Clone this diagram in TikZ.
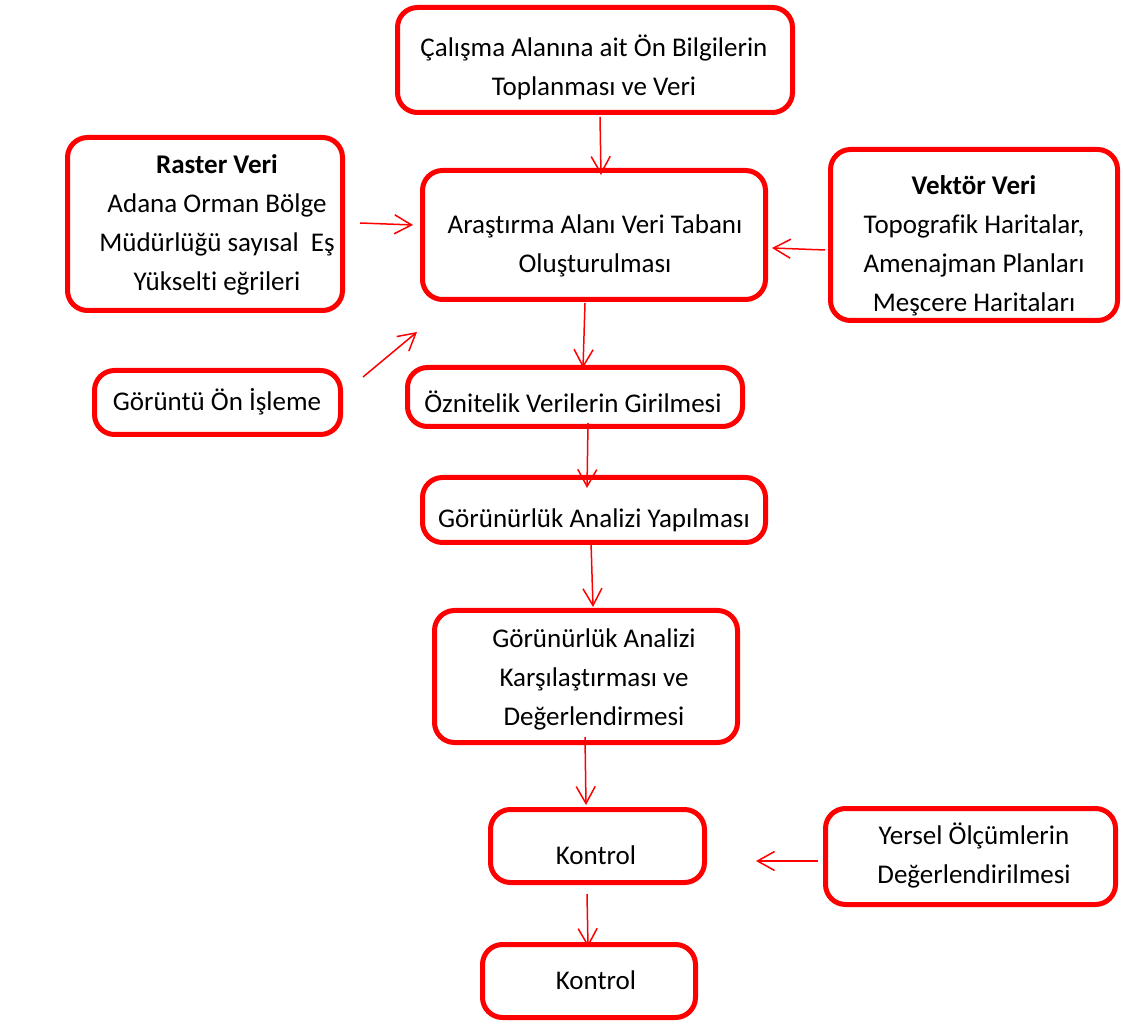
\documentclass[tikz,border=0pt]{standalone}
\usepackage{fontspec}
\setmainfont{Carlito}[Ligatures=NoCommon]
\usetikzlibrary{arrows.meta}
\tikzset{
    kutu/.style={draw=red, line width=5pt, rounded corners=20pt, outer sep=0pt, fill=white},
    yazi/.style={align=center, font=\fontsize{27pt}{39pt}\selectfont, inner sep=0pt},
    ok/.style={red, line width=1.5pt, -{Straight Barb[length=17pt,width=19pt]}}
}
\begin{document}
\begin{tikzpicture}[x=1pt, y=1pt]
    \useasboundingbox (0,0) rectangle (1123,1023);
    \node[kutu, minimum width=395pt, minimum height=105pt] (calisma) at (595,963) {};
    \node[yazi] (calisma-t) at (594,956) {Çalışma Alanına ait Ön Bilgilerin\\Toplanması ve Veri};
    \node[kutu, minimum width=275pt, minimum height=173pt] (raster) at (205,799) {};
    \node[yazi] (raster-t) at (217,798) {\textbf{Raster Veri}\\Adana Orman Bölge\\Müdürlüğü sayısal\ \ Eş\\Yükselti eğrileri};
    \node[kutu, minimum width=343pt, minimum height=129pt] (arastirma) at (594,788) {};
    \node[yazi] (arastirma-t) at (595,777) {Araştırma Alanı Veri Tabanı\\Oluşturulması};
    \node[kutu, minimum width=287pt, minimum height=171pt] (vektor) at (974,788) {};
    \node[yazi] (vektor-t) at (974,777) {\textbf{Vektör Veri}\\Topografik Haritalar,\\Amenajman Planları\\Meşcere Haritaları};
    \node[kutu, minimum width=246pt, minimum height=64pt] (goruntu) at (217.5,620.5) {};
    \node[yazi] (goruntu-t) at (217,621) {Görüntü Ön İşleme};
    \node[kutu, minimum width=335pt, minimum height=59pt] (oznitelik) at (575,626) {};
    \node[yazi] (oznitelik-t) at (573,621) {Öznitelik Verilerin Girilmesi};
    \node[kutu, minimum width=343pt, minimum height=65pt] (gorunurluk) at (594,513) {};
    \node[yazi] (gorunurluk-t) at (594,503) {Görünürlük Analizi Yapılması};
    \node[kutu, minimum width=303pt, minimum height=132pt] (karsilastirma) at (586,346.5) {};
    \node[yazi] (karsilastirma-t) at (594,344) {Görünürlük Analizi\\Karşılaştırması ve\\Değerlendirmesi};
    \node[kutu, minimum width=214pt, minimum height=73pt] (kontrolA) at (597.5,177) {};
    \node[yazi] (kontrolA-t) at (596,168) {Kontrol};
    \node[kutu, minimum width=290pt, minimum height=96pt] (yersel) at (970.5,166.5) {};
    \node[yazi] (yersel-t) at (974,168) {Yersel Ölçümlerin\\Değerlendirilmesi};
    \node[kutu, minimum width=213pt, minimum height=73pt] (kontrolB) at (589,42) {};
    \node[yazi] (kontrolB-t) at (596,43) {Kontrol};
    \coordinate (bos) at (417,691);
    \draw[ok] ([xshift=5pt,yshift=-4.5pt]calisma.south) -- ([xshift=7pt,yshift=-4.5pt]arastirma.north);
    \draw[ok] ([xshift=17.5pt,yshift=1pt]raster.east) -- ([xshift=-9.5pt,yshift=10pt]arastirma.west);
    \draw[ok] ([xshift=22.5pt,yshift=-6.5pt]goruntu.north east) -- (bos);
    \draw[ok] ([xshift=-5.5pt,yshift=-15pt]vektor.west) -- ([xshift=6.5pt,yshift=-13pt]arastirma.east);
    \draw[ok] ([xshift=-9pt,yshift=-3.5pt]arastirma.south) -- ([xshift=8pt,yshift=-0.5pt]oznitelik.north);
    \draw[ok] ([xshift=13pt,yshift=3.5pt]oznitelik.south) -- ([xshift=-7pt,yshift=-10.5pt]gorunurluk.north);
    \draw[ok] ([xshift=-3pt,yshift=0.5pt]gorunurluk.south) -- ([xshift=7pt,yshift=3.5pt]karsilastirma.north);
    \draw[ok] ([xshift=-1pt,yshift=5.5pt]karsilastirma.south) -- ([xshift=-11.5pt,yshift=4.5pt]kontrolA.north);
    \draw[ok] ([xshift=-7.5pt,yshift=-4.5pt]yersel.west) -- ([xshift=51.5pt,yshift=-15pt]kontrolA.east);
    \draw[ok] ([xshift=-10.5pt,yshift=-11.5pt]kontrolA.south) -- ([xshift=-1pt,yshift=-2.5pt]kontrolB.north);
\end{tikzpicture}
\end{document}
